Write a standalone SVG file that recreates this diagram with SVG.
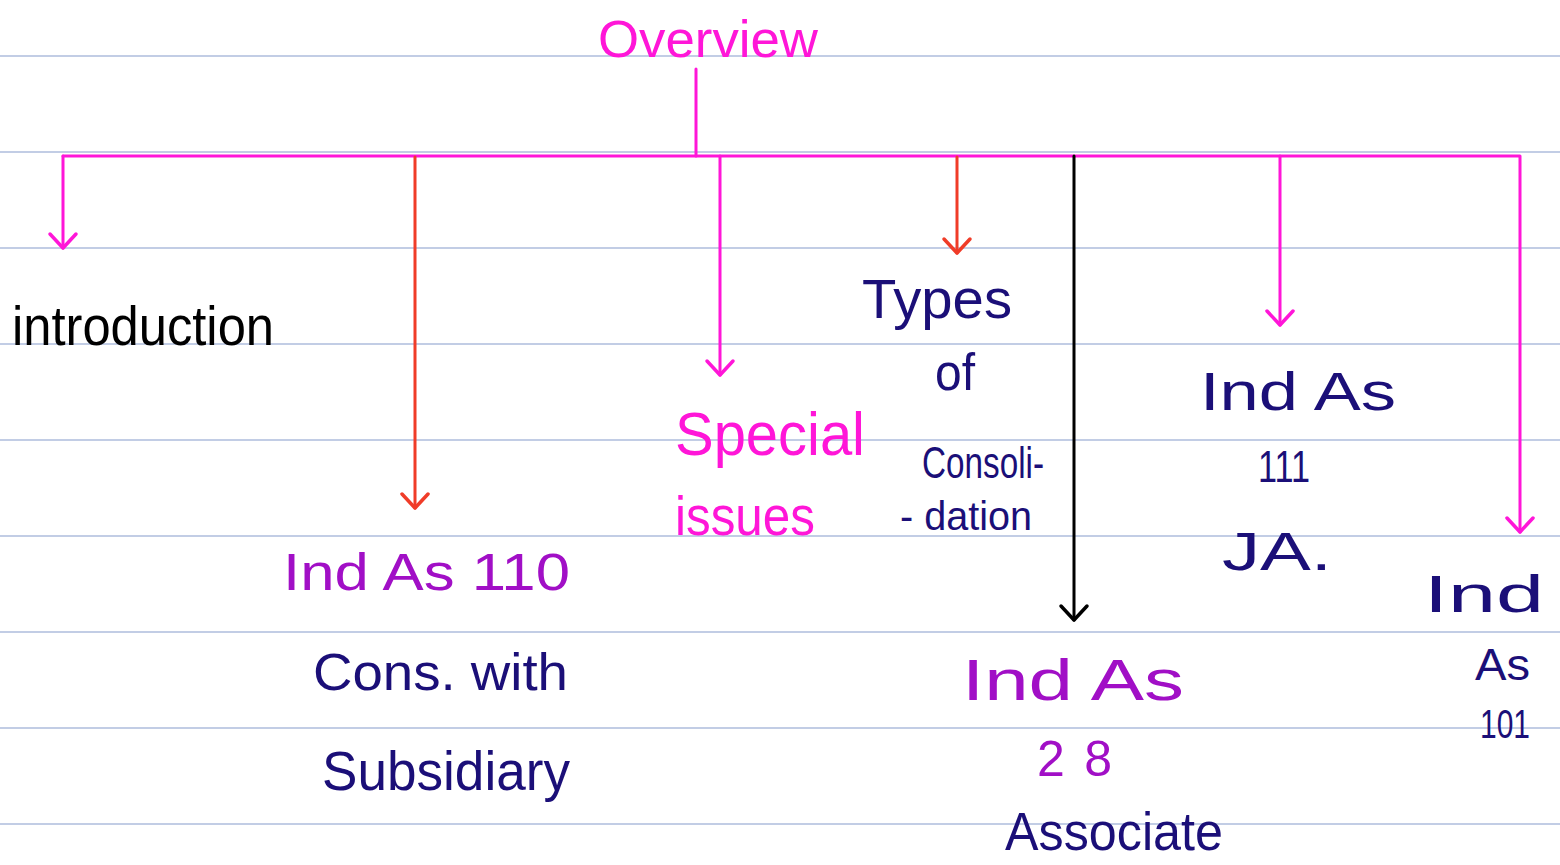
<svg xmlns="http://www.w3.org/2000/svg" width="1560" height="865" viewBox="0 0 1560 865">
<style>
.rule{stroke:#aebcdc;stroke-width:1.5}
.ln{fill:none;stroke-width:3;stroke-linecap:round;stroke-linejoin:round}
.mg{stroke:#ff16d8}
.rd{stroke:#f03c28}
.bk{stroke:#000}
text{font-family:"Liberation Sans",Arial,sans-serif}
.t-mg{fill:#ff16d8}
.t-pu{fill:#a10fc6}
.t-nv{fill:#1b0f78}
.t-bk{fill:#000}
</style>
<defs>
<marker id="am" markerUnits="userSpaceOnUse" markerWidth="40" markerHeight="40" viewBox="-20 -20 40 40" refX="0" refY="0" orient="auto"><path d="M-14,-13 L0,0 L-14,13" fill="none" stroke="#ff16d8" stroke-width="3.5" stroke-linecap="round" stroke-linejoin="round"/></marker>
<marker id="ar" markerUnits="userSpaceOnUse" markerWidth="40" markerHeight="40" viewBox="-20 -20 40 40" refX="0" refY="0" orient="auto"><path d="M-14,-13 L0,0 L-14,13" fill="none" stroke="#f03c28" stroke-width="3.5" stroke-linecap="round" stroke-linejoin="round"/></marker>
<marker id="ab" markerUnits="userSpaceOnUse" markerWidth="40" markerHeight="40" viewBox="-20 -20 40 40" refX="0" refY="0" orient="auto"><path d="M-14,-13 L0,0 L-14,13" fill="none" stroke="#000" stroke-width="3.5" stroke-linecap="round" stroke-linejoin="round"/></marker>
</defs>
<rect width="1560" height="865" fill="#fff"/>
<g id="rules">
<line class="rule" x1="0" y1="56" x2="1560" y2="56"/>
<line class="rule" x1="0" y1="152" x2="1560" y2="152"/>
<line class="rule" x1="0" y1="248" x2="1560" y2="248"/>
<line class="rule" x1="0" y1="344" x2="1560" y2="344"/>
<line class="rule" x1="0" y1="440" x2="1560" y2="440"/>
<line class="rule" x1="0" y1="536" x2="1560" y2="536"/>
<line class="rule" x1="0" y1="632" x2="1560" y2="632"/>
<line class="rule" x1="0" y1="728" x2="1560" y2="728"/>
<line class="rule" x1="0" y1="824" x2="1560" y2="824"/>
</g>
<g id="connectors">
<line class="ln mg" x1="696" y1="69" x2="696" y2="156"/>
<polyline class="ln mg" points="63,156 1520,156 1520,532" marker-end="url(#am)"/>
<line class="ln mg" x1="63" y1="156" x2="63" y2="248" marker-end="url(#am)"/>
<line class="ln rd" x1="415" y1="157" x2="415" y2="508" marker-end="url(#ar)"/>
<line class="ln mg" x1="720" y1="156" x2="720" y2="375" marker-end="url(#am)"/>
<line class="ln rd" x1="957" y1="157" x2="957" y2="253" marker-end="url(#ar)"/>
<line class="ln bk" x1="1074" y1="156" x2="1074" y2="620" marker-end="url(#ab)"/>
<line class="ln mg" x1="1280" y1="156" x2="1280" y2="325" marker-end="url(#am)"/>
</g>
<g id="n-overview"><text class="t-mg" x="598" y="57" font-size="52" textLength="220" lengthAdjust="spacingAndGlyphs">Overview</text></g>
<g id="n-introduction"><text class="t-bk" x="12" y="345" font-size="56" textLength="262" lengthAdjust="spacingAndGlyphs">introduction</text></g>
<g id="n-indas110">
<text class="t-pu" x="283" y="590" font-size="52" textLength="287" lengthAdjust="spacingAndGlyphs">Ind As 110</text>
<text class="t-nv" x="313" y="690" font-size="52" textLength="255" lengthAdjust="spacingAndGlyphs">Cons. with</text>
<text class="t-nv" x="322" y="790" font-size="56" textLength="248" lengthAdjust="spacingAndGlyphs">Subsidiary</text>
</g>
<g id="n-special">
<text class="t-mg" x="675" y="455" font-size="62" textLength="190" lengthAdjust="spacingAndGlyphs">Special</text>
<text class="t-mg" x="675" y="535" font-size="56" textLength="140" lengthAdjust="spacingAndGlyphs">issues</text>
</g>
<g id="n-types">
<text class="t-nv" x="862" y="318" font-size="56" textLength="150" lengthAdjust="spacingAndGlyphs">Types</text>
<text class="t-nv" x="935" y="390" font-size="52" textLength="40" lengthAdjust="spacingAndGlyphs">of</text>
<text class="t-nv" x="922" y="478" font-size="44" textLength="122" lengthAdjust="spacingAndGlyphs">Consoli-</text>
<text class="t-nv" x="900" y="530" font-size="40" textLength="132" lengthAdjust="spacingAndGlyphs">- dation</text>
</g>
<g id="n-indas28">
<text class="t-pu" x="962" y="700" font-size="58" textLength="222" lengthAdjust="spacingAndGlyphs">Ind As</text>
<text class="t-pu" x="1037" y="776" font-size="50" textLength="75" lengthAdjust="spacing">28</text>
<text class="t-nv" x="1005" y="850" font-size="54" textLength="218" lengthAdjust="spacingAndGlyphs">Associate</text>
</g>
<g id="n-indas111">
<text class="t-nv" x="1200" y="410" font-size="54" textLength="196" lengthAdjust="spacingAndGlyphs">Ind As</text>
<text class="t-nv" x="1258" y="482" font-size="44" textLength="52" lengthAdjust="spacingAndGlyphs">111</text>
<text class="t-nv" x="1222" y="570" font-size="54" textLength="110" lengthAdjust="spacingAndGlyphs">JA.</text>
</g>
<g id="n-indas101">
<text class="t-nv" x="1424" y="612" font-size="52" textLength="120" lengthAdjust="spacingAndGlyphs">Ind</text>
<text class="t-nv" x="1475" y="680" font-size="44" textLength="55" lengthAdjust="spacingAndGlyphs">As</text>
<text class="t-nv" x="1480" y="738" font-size="40" textLength="50" lengthAdjust="spacingAndGlyphs">101</text>
</g>
</svg>
